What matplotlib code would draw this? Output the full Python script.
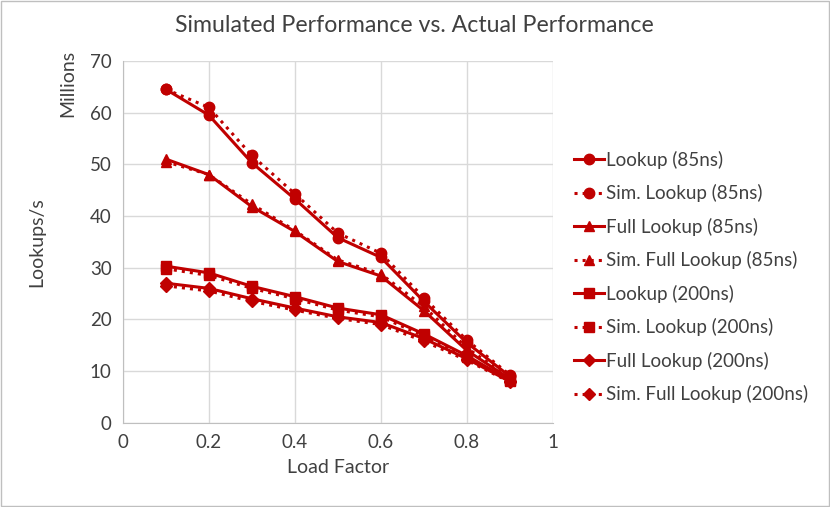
import numpy as np
import matplotlib.pyplot as plt

plt.rcParams['font.family'] = ['Lato', 'DejaVu Sans']

load = [0.1, 0.2, 0.3, 0.4, 0.5, 0.6, 0.7, 0.8, 0.9]

lookup_85 = [64.5, 59.5, 50.3, 43.3, 35.8, 32.0, 23.5, 15.5, 9.0]
sim_lookup_85 = [64.5, 61.0, 51.7, 44.3, 36.7, 32.8, 24.2, 16.0, 9.3]
full_85 = [51.0, 48.0, 41.8, 37.0, 31.2, 28.4, 21.7, 14.0, 8.5]
sim_full_85 = [50.5, 48.0, 42.3, 37.2, 31.5, 28.8, 22.5, 14.5, 8.7]
lookup_200 = [30.3, 29.0, 26.4, 24.4, 22.2, 20.9, 17.2, 13.0, 8.2]
sim_lookup_200 = [29.8, 28.5, 26.0, 24.0, 21.8, 20.5, 16.8, 12.8, 8.0]
full_200 = [27.0, 26.0, 24.0, 22.2, 20.5, 19.4, 16.3, 12.4, 8.0]
sim_full_200 = [26.5, 25.5, 23.5, 21.8, 20.2, 19.0, 15.8, 12.1, 7.9]

series = [
    ("Lookup (85ns)", lookup_85, "-", "o"),
    ("Sim. Lookup (85ns)", sim_lookup_85, ":", "o"),
    ("Full Lookup (85ns)", full_85, "-", "^"),
    ("Sim. Full Lookup (85ns)", sim_full_85, ":", "^"),
    ("Lookup (200ns)", lookup_200, "-", "s"),
    ("Sim. Lookup (200ns)", sim_lookup_200, ":", "s"),
    ("Full Lookup (200ns)", full_200, "-", "D"),
    ("Sim. Full Lookup (200ns)", sim_full_200, ":", "D"),
]

red = "#C00000"
txt = "#404040"
fig = plt.figure(figsize=(8.3, 5.07), dpi=100)
ax = fig.add_axes([0.148, 0.166, 0.518, 0.714])

for name, vals, ls, mk in series:
    ms = 7.5 if mk == "o" else (6 if mk == "D" else 7)
    ax.plot(load, vals, linestyle=ls, marker=mk, color=red, lw=2.2,
            markersize=ms, label=name)

ax.set_xlim(0, 1)
ax.set_ylim(0, 70)
ax.set_xticks(np.arange(0, 1.01, 0.2))
ax.set_xticklabels(["0", "0.2", "0.4", "0.6", "0.8", "1"])
ax.set_yticks(range(0, 71, 10))
ax.grid(True, color="#d9d9d9", lw=1)
ax.set_axisbelow(True)
for s in ["top", "right"]:
    ax.spines[s].set_visible(False)
for s in ["left", "bottom"]:
    ax.spines[s].set_color("#bfbfbf")
ax.tick_params(length=0, labelsize=13.5, colors=txt, pad=8)

ax.set_xlabel("Load Factor", fontsize=14, color=txt, labelpad=6)
ax.set_ylabel("Lookups/s", fontsize=14, color=txt, labelpad=32)
fig.text(0.082, 0.835, "Millions", rotation=90, fontsize=14, color=txt,
         ha="center", va="center")
fig.text(0.499, 0.95, "Simulated Performance vs. Actual Performance",
         fontsize=16.7, color=txt, ha="center", va="center")

ax.legend(loc="center left", bbox_to_anchor=(0.692, 1 - 277 / 507),
          bbox_transform=fig.transFigure, frameon=False, borderpad=0,
          borderaxespad=0, fontsize=13.5, handlelength=1.6, handletextpad=0.1,
          labelspacing=0.82, labelcolor=txt)

fig.patches.append(plt.Rectangle((0.001, 0.001), 0.998, 0.998, transform=fig.transFigure,
                                 fill=False, edgecolor="#bfbfbf", lw=1))

fig.savefig("out.png", dpi=100)
